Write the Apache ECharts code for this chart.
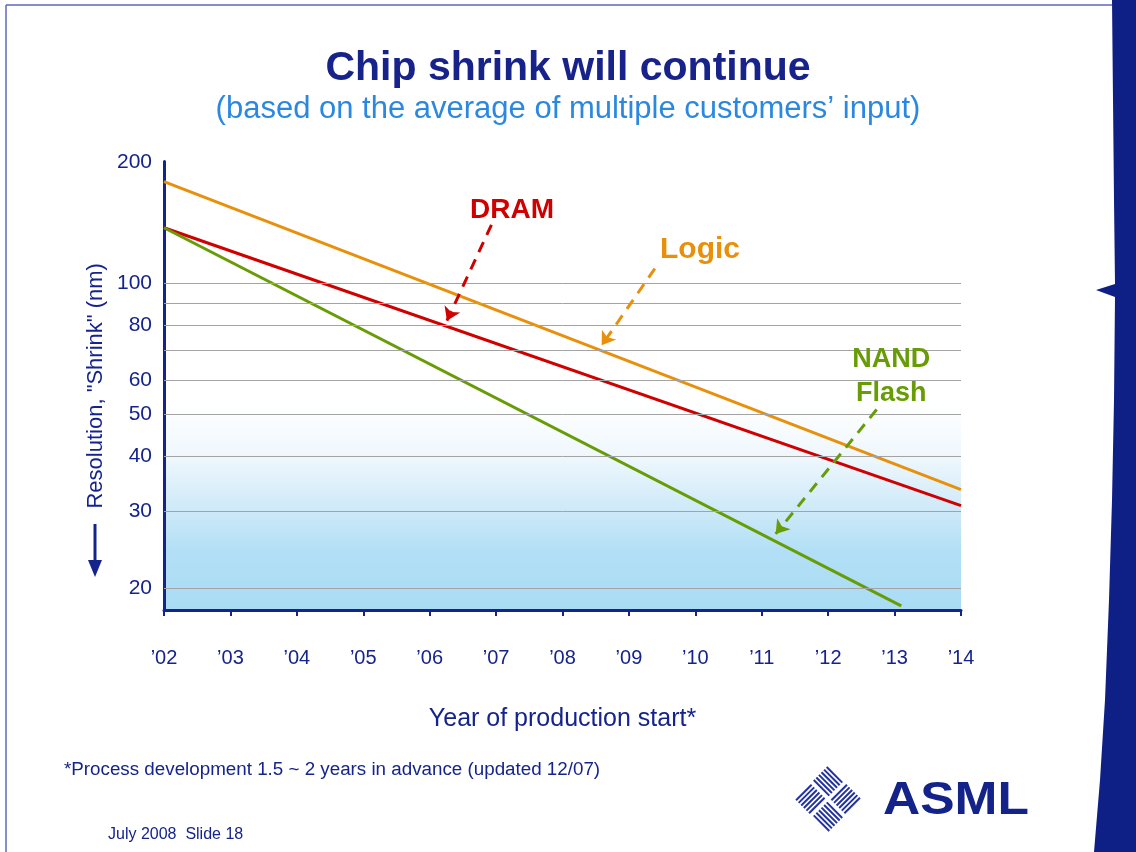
<!DOCTYPE html>
<html>
<head>
<meta charset="utf-8">
<script src="https://cdn.jsdelivr.net/npm/echarts@6/dist/echarts.min.js"></script>
<style>
  html, body { margin: 0; padding: 0; background: #fff; }
  #chart { width: 1136px; height: 852px; }
</style>
</head>
<body>
<div id="chart"></div>
<script>
// values (nm, log scale)
const years = [2002, 2014];
const dramNm = [134, 30.9];
const logicNm = [171, 33.6];
const nandYears = [2002, 2013.1];
const nandNm = [134, 18.2];

// y gridlines and their labels (70 and 90 have no label)
const gridValues = [20, 30, 40, 50, 60, 70, 80, 90, 100];
const gridLabels = ['20', '30', '40', '50', '60', '', '80', '', '100'];
const yMin = 17.8;
const yMax = 190;
const topLabel = '200';

// callouts: [year, nm]
const dramArrow = [[2006.93, 136], [2006.26, 82]];
const logicArrow = [[2009.39, 108], [2008.59, 72]];
const nandArrow = [[2012.73, 51.3], [2011.21, 26.6]];
const dramTextAt = [2007.24, 147];
const logicTextAt = [2010.07, 119];
const nandTextAt = [2012.95, 61];

const NAVY = '#15248c';
const FONT = '"Liberation Sans", Arial, sans-serif';
const RED = '#d00000';
const ORANGE = '#e8900c';
const GREEN = '#689c06';

function pairs(xs, ys) {
  return xs.map((x, i) => [x, ys[i]]);
}

function arrowLine(pts, color) {
  return {
    silent: true,
    symbol: ['none', 'arrow'],
    symbolSize: 13,
    label: { show: false },
    lineStyle: { color: color, width: 3, type: [11, 8] },
    emphasis: { disabled: true },
    data: [[{ coord: pts[0] }, { coord: pts[1] }]]
  };
}

function callout(at, text, color, size) {
  return {
    silent: true,
    symbolSize: 0,
    label: {
      show: true, position: 'inside', formatter: text,
      color: color, fontSize: size, fontWeight: 'bold', fontFamily: FONT,
      lineHeight: 34, align: 'center'
    },
    data: [{ coord: at }]
  };
}

const chart = echarts.init(document.getElementById('chart'), null, { renderer: 'canvas' });

// gridlines with labels at the left end
const gridMarks = gridValues.map((v, i) => ({
  yAxis: v,
  label: { show: gridLabels[i] !== '', formatter: gridLabels[i] }
}));
// top of the axis carries the "200" label only
gridMarks.push({
  yAxis: yMax * 0.999,
  lineStyle: { color: 'rgba(0,0,0,0)' },
  label: { show: true, formatter: topLabel }
});

// diamond of striped squares for the logo
function logoStripes() {
  const kids = [];
  const side = 22, gap = 3, n = 6, w = 2;
  for (let r = 0; r < 2; r++) {
    for (let c = 0; c < 2; c++) {
      const ox = -side - gap / 2 + c * (side + gap);
      const oy = -side - gap / 2 + r * (side + gap);
      const horiz = (r + c) % 2 === 0;
      for (let k = 0; k < n; k++) {
        const t = (k + 0.5) * side / n;
        kids.push({
          type: 'rect',
          shape: horiz ? { x: ox, y: oy + t - w / 2, width: side, height: w }
                       : { x: ox + t - w / 2, y: oy, width: w, height: side },
          style: { fill: '#2233a0' }
        });
      }
    }
  }
  return kids;
}

chart.setOption({
  animation: false,
  grid: {
    left: 164, right: 175, top: 161.6, bottom: 242,
    show: true, borderWidth: 0,
    backgroundColor: new echarts.graphic.LinearGradient(0, 0, 0, 1, [
      { offset: 0, color: '#ffffff' },
      { offset: 0.54, color: '#ffffff' },
      { offset: 0.66, color: '#eef7fd' },
      { offset: 0.78, color: '#cde9f8' },
      { offset: 0.87, color: '#b2dff5' },
      { offset: 1, color: '#a9dcf4' }
    ])
  },
  xAxis: {
    type: 'value',
    min: 2002, max: 2014, interval: 1,
    axisLine: { lineStyle: { color: NAVY, width: 3 } },
    axisTick: { show: true, length: 6, lineStyle: { color: NAVY, width: 2 } },
    splitLine: { show: false },
    axisLabel: {
      margin: 38, color: NAVY, fontSize: 20, fontFamily: FONT,
      formatter: v => '\u2019' + String(v).slice(2)
    },
    name: 'Year of production start*',
    nameLocation: 'middle',
    nameGap: 97,
    nameTextStyle: { color: NAVY, fontSize: 25, fontFamily: FONT }
  },
  yAxis: {
    type: 'log',
    logBase: 10,
    min: yMin, max: yMax,
    axisLine: { show: true, lineStyle: { color: NAVY, width: 3 } },
    axisTick: { show: false },
    axisLabel: { show: false },
    splitLine: { show: false },
    name: 'Resolution, "Shrink" (nm)',
    nameLocation: 'middle',
    nameRotate: 90,
    nameGap: 57,
    nameTextStyle: { color: NAVY, fontSize: 22, fontFamily: FONT }
  },
  series: [
    {
      name: 'grid',
      type: 'line',
      data: [],
      z: 1,
      markLine: {
        silent: true,
        symbol: ['none', 'none'],
        lineStyle: { color: '#a3a3a3', width: 1, type: 'solid' },
        label: {
          position: 'start', distance: 12,
          color: NAVY, fontSize: 21, fontFamily: FONT
        },
        emphasis: { disabled: true },
        data: gridMarks
      }
    },
    {
      name: 'Logic',
      type: 'line',
      z: 3,
      showSymbol: false,
      lineStyle: { color: ORANGE, width: 3 },
      data: pairs(years, logicNm),
      markLine: arrowLine(logicArrow, ORANGE),
      markPoint: callout(logicTextAt, 'Logic', ORANGE, 30)
    },
    {
      name: 'DRAM',
      type: 'line',
      z: 3,
      showSymbol: false,
      lineStyle: { color: RED, width: 3 },
      data: pairs(years, dramNm),
      markLine: arrowLine(dramArrow, RED),
      markPoint: callout(dramTextAt, 'DRAM', RED, 28)
    },
    {
      name: 'NAND Flash',
      type: 'line',
      z: 3,
      showSymbol: false,
      lineStyle: { color: GREEN, width: 3 },
      data: pairs(nandYears, nandNm),
      markLine: arrowLine(nandArrow, GREEN),
      markPoint: callout(nandTextAt, 'NAND\nFlash', GREEN, 27)
    }
  ],
  graphic: [
    // slide frame
    { type: 'line', shape: { x1: 6, y1: 5, x2: 1112, y2: 5 }, style: { stroke: '#5d68b5', lineWidth: 1.5 } },
    { type: 'line', shape: { x1: 6, y1: 5, x2: 6, y2: 852 }, style: { stroke: '#5d68b5', lineWidth: 1.5 } },
    // titles
    {
      type: 'text', x: 568, y: 69,
      style: {
        text: 'Chip shrink will continue', fill: '#17238a',
        font: 'bold 41px ' + FONT, textAlign: 'center', textVerticalAlign: 'middle'
      }
    },
    {
      type: 'text', x: 568, y: 109,
      style: {
        text: '(based on the average of multiple customers\u2019 input)', fill: '#2b88e0',
        font: '31px ' + FONT, textAlign: 'center', textVerticalAlign: 'middle'
      }
    },
    // arrow under the y axis name
    { type: 'line', shape: { x1: 95, y1: 524, x2: 95, y2: 562 }, style: { stroke: NAVY, lineWidth: 3 } },
    { type: 'polygon', shape: { points: [[88, 560], [102, 560], [95, 577]] }, style: { fill: NAVY } },
    // footnotes
    {
      type: 'text', x: 64, y: 770,
      style: {
        text: '*Process development 1.5 ~ 2 years in advance (updated 12/07)', fill: NAVY,
        font: '18.8px ' + FONT, textVerticalAlign: 'middle'
      }
    },
    {
      type: 'text', x: 108, y: 835,
      style: { text: 'July 2008  Slide 18', fill: NAVY, font: '16px ' + FONT, textVerticalAlign: 'middle' }
    },
    // ASML logo
    {
      type: 'group', x: 828, y: 799, rotation: Math.PI / 4,
      children: logoStripes()
    },
    {
      type: 'text', x: 883, y: 801, scaleX: 1.12,
      style: { text: 'ASML', fill: '#14238a', font: 'bold 46px ' + FONT, textVerticalAlign: 'middle' }
    },
    // right-hand band
    {
      type: 'polygon', z: 100,
      shape: {
        points: [[1112, 0], [1136, 0], [1136, 852], [1094, 852], [1100, 780], [1105, 700],
                 [1109, 600], [1112, 500], [1114, 400], [1115, 297], [1096, 290],
                 [1115, 284], [1114, 200], [1113, 100]]
      },
      style: { fill: '#0e1f86' }
    }
  ]
});
</script>
</body>
</html>
